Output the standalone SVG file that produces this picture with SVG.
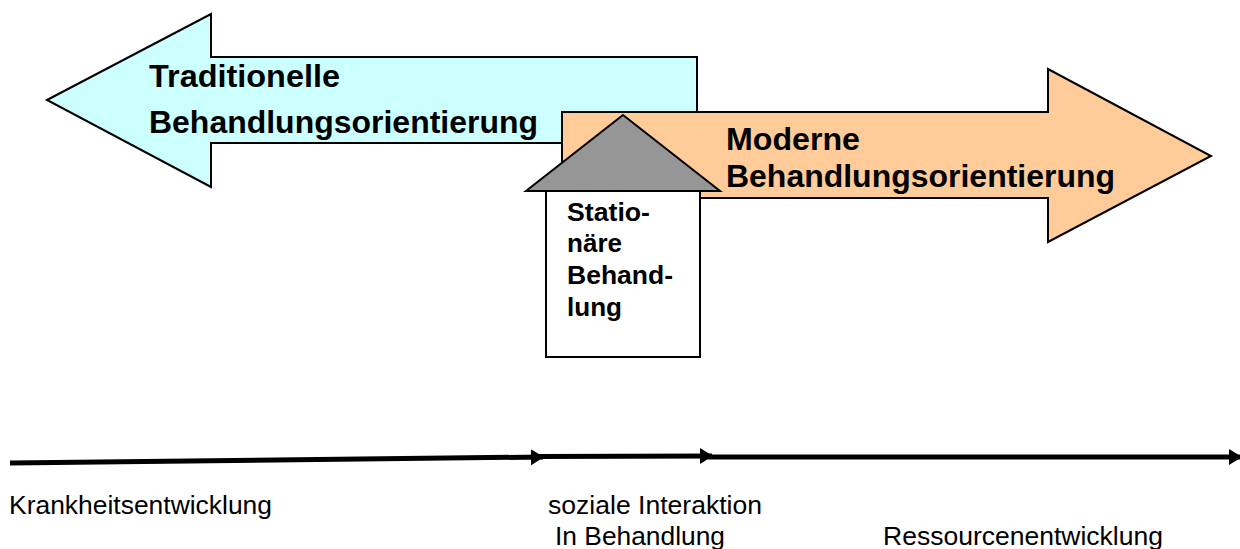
<svg xmlns="http://www.w3.org/2000/svg" width="1240" height="549" viewBox="0 0 1240 549">
<style>
.s{stroke:#000;stroke-width:2;stroke-linejoin:miter}
text{font-family:"Liberation Sans",Arial,sans-serif;fill:#000}
.b{font-weight:700;font-size:32px}
.m{font-weight:700;font-size:26.5px}
.r{font-size:26.5px}
.c{fill:none;stroke:#000;stroke-width:5;marker-end:url(#h)}
</style>
<defs>
<marker id="h" markerUnits="userSpaceOnUse" markerWidth="14" markerHeight="18" refX="12" refY="8" orient="auto" overflow="visible"><path d="M0 0 L13 8 L0 16 Z" fill="#000"/></marker>
</defs>
<rect width="1240" height="549" fill="#fff"/>
<g id="traditional">
<polygon class="s" fill="#CCFFFF" points="47,100 211,14 211,57 697,57 697,143 211,143 211,187"/>
<text class="b" x="149" y="87" textLength="191" lengthAdjust="spacingAndGlyphs">Traditionelle</text>
<text class="b" x="149" y="133" textLength="389" lengthAdjust="spacingAndGlyphs">Behandlungsorientierung</text>
</g>
<g id="modern">
<polygon class="s" fill="#FFCC99" points="562,112 1048,112 1048,69 1211,156 1048,242 1048,198 562,198"/>
<text class="b" x="726" y="150" textLength="134" lengthAdjust="spacingAndGlyphs">Moderne</text>
<text class="b" x="726" y="187" textLength="389" lengthAdjust="spacingAndGlyphs">Behandlungsorientierung</text>
</g>
<g id="house">
<rect class="s" fill="#fff" x="546" y="191" width="154" height="166"/>
<polygon class="s" fill="#969696" points="623,115 720,191 526,191"/>
<text class="m" x="567" y="221" textLength="83" lengthAdjust="spacingAndGlyphs">Statio-</text>
<text class="m" x="567" y="252" textLength="55" lengthAdjust="spacingAndGlyphs">näre</text>
<text class="m" x="567" y="284" textLength="106" lengthAdjust="spacingAndGlyphs">Behand-</text>
<text class="m" x="567" y="316" textLength="55" lengthAdjust="spacingAndGlyphs">lung</text>
</g>
<g id="connectors">
<line class="c" x1="10" y1="463" x2="543" y2="457"/>
<line class="c" x1="538" y1="456.5" x2="712" y2="456"/>
<line class="c" x1="708" y1="457" x2="1241" y2="457"/>
</g>
<g id="labels">
<text class="r" x="9" y="514" textLength="263" lengthAdjust="spacingAndGlyphs">Krankheitsentwicklung</text>
<text class="r" x="548" y="514" textLength="214" lengthAdjust="spacingAndGlyphs">soziale Interaktion</text>
<text class="r" x="555" y="545" textLength="170" lengthAdjust="spacingAndGlyphs">In Behandlung</text>
<text class="r" x="883" y="545" textLength="280" lengthAdjust="spacingAndGlyphs">Ressourcenentwicklung</text>
</g>
</svg>
